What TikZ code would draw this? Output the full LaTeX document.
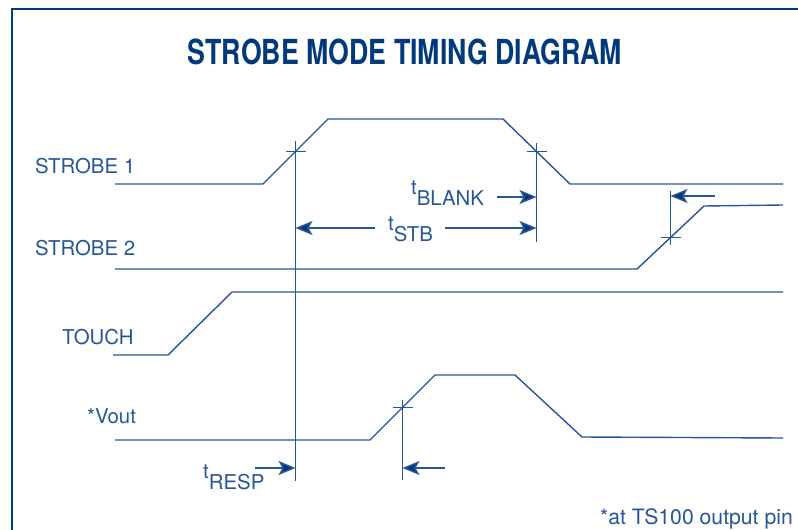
\documentclass[tikz,border=0pt]{standalone}
\usepackage{fontspec}
\setmainfont{TeX Gyre Heros}
\newfontfamily\titlefont[FakeStretch=0.775]{TeX Gyre Heros}
\usetikzlibrary{arrows.meta,calc,positioning}
\definecolor{lineblue}{RGB}{40,86,148}
\definecolor{titleblue}{RGB}{0,58,122}
\definecolor{tipblue}{RGB}{0,56,118}
\newcommand{\tsub}[1]{t\raisebox{-0.58em}{#1}}

\begin{document}
\begin{tikzpicture}[x=1pt,y=-1pt]
	\tikzset{wave/.style={draw=lineblue, line width=1.4pt},
		marker/.style={draw=lineblue, line width=1.3pt},
		frame/.style={draw=titleblue, line width=1.8pt},
		dim/.style={draw=lineblue, line width=1.5pt,
			-{Stealth[length=17pt,width=14pt,inset=4pt,fill=tipblue]}},
		lbl/.style={text=lineblue, inner sep=0pt, font=\fontsize{20.4}{24}\selectfont},
		title/.style={text=titleblue, inner sep=0pt,
			font=\titlefont\bfseries\fontsize{34.5}{40}\selectfont}
	}
	\useasboundingbox (0,0) rectangle (798,530);
	% frame and title
	\draw[frame] (12,530) -- (12,9) -- (798,9);
	\node[title, anchor=base] (title) at (405,64) {STROBE MODE TIMING DIAGRAM};
	% signal names
	\node[lbl, anchor=base west] (nstrobea) at (35,173) {STROBE 1};
	\node[lbl, anchor=base west] (nstrobeb) at (35,255) {STROBE 2};
	\node[lbl, anchor=base west] (ntouch) at (62,344) {TOUCH};
	\node[lbl, anchor=base west] (nvout) at (87,423) {*Vout};
	\node[lbl, anchor=base east, font=\fontsize{21.2}{24}\selectfont] (note) at (793,524) {*at TS100 output pin};
	% STROBE 1
	\coordinate (sa1) at (115,184);
	\coordinate (sa2) at (263,184);
	\coordinate (sa3) at (328,119);
	\coordinate (sa4) at (503,119);
	\coordinate (sa5) at (570,184);
	\coordinate (sa6) at (783,184);
	\draw[wave] (sa1) -- (sa2) -- (sa3) -- (sa4) -- (sa5) -- (sa6);
	% STROBE 2
	\coordinate (sb1) at (115,269);
	\coordinate (sb2) at (637,269);
	\coordinate (sb3) at (704,206);
	\coordinate (sb4) at (783,205);
	\draw[wave] (sb1) -- (sb2) -- (sb3) -- (sb4);
	% TOUCH
	\coordinate (tc1) at (113,355);
	\coordinate (tc2) at (168,355);
	\coordinate (tc3) at (232,292);
	\coordinate (tc4) at (783,292);
	\draw[wave] (tc1) -- (tc2) -- (tc3) -- (tc4);
	% Vout
	\coordinate (vo1) at (115,440);
	\coordinate (vo2) at (370,440);
	\coordinate (vo3) at (435,375);
	\coordinate (vo4) at (515,375);
	\coordinate (vo5) at (582,437);
	\coordinate (vo6) at (783,438);
	\draw[wave] (vo1) -- (vo2) -- (vo3) -- (vo4) -- (vo5) -- (vo6);
	% crossing marks
	\coordinate (ma) at ($(sa2)!0.5!(sa3)$);
	\coordinate (mb) at ($(sa4)!0.5!(sa5)$);
	\coordinate (mc) at ($(sb2)!0.5!(sb3)$);
	\coordinate (md) at ($(vo2)!0.5!(vo3)$);
	\draw[marker] ($(ma)+(-10,0)$) -- ($(ma)+(10,0)$);
	\draw[marker] ($(ma)+(0,-11)$) -- (ma |- 0,481);
	\draw[marker] ($(mb)+(-10,0)$) -- ($(mb)+(10,0)$);
	\draw[marker] ($(mb)+(0,-9)$) -- (mb |- 0,242);
	\draw[marker] ($(mc)+(-10,0)$) -- ($(mc)+(10,0)$);
	\draw[marker] (mc |- 0,191) -- (mc |- 0,245);
	\draw[marker] ($(md)+(-10,0)$) -- ($(md)+(10,0)$);
	\draw[marker] ($(md)+(0,-8)$) -- (md |- 0,480);
	% timing arrows
	\coordinate (blank) at (497,197);
	\coordinate (stbl) at (375,228);
	\coordinate (stbr) at (445,228);
	\coordinate (resp) at (255,468);
	\coordinate (edge) at (715,196);
	\coordinate (vedge) at (445,468);
	\draw[dim] (blank) -- (blank -| mb);
	\draw[dim] (stbl) -- (stbl -| ma);
	\draw[dim] (stbr) -- (stbr -| mb);
	\draw[dim] (resp) -- (resp -| ma);
	\draw[dim] (edge) -- (edge -| mc);
	\draw[dim] (vedge) -- (vedge -| md);
	\node[lbl, anchor=base west] (tblank) at (411,194) {\tsub{BLANK}};
	\node[lbl, anchor=base west] (tstb) at (388,230) {\tsub{STB}};
	\node[lbl, anchor=base west] (tresp) at (203,478) {\tsub{RESP}};
\end{tikzpicture}
\end{document}
